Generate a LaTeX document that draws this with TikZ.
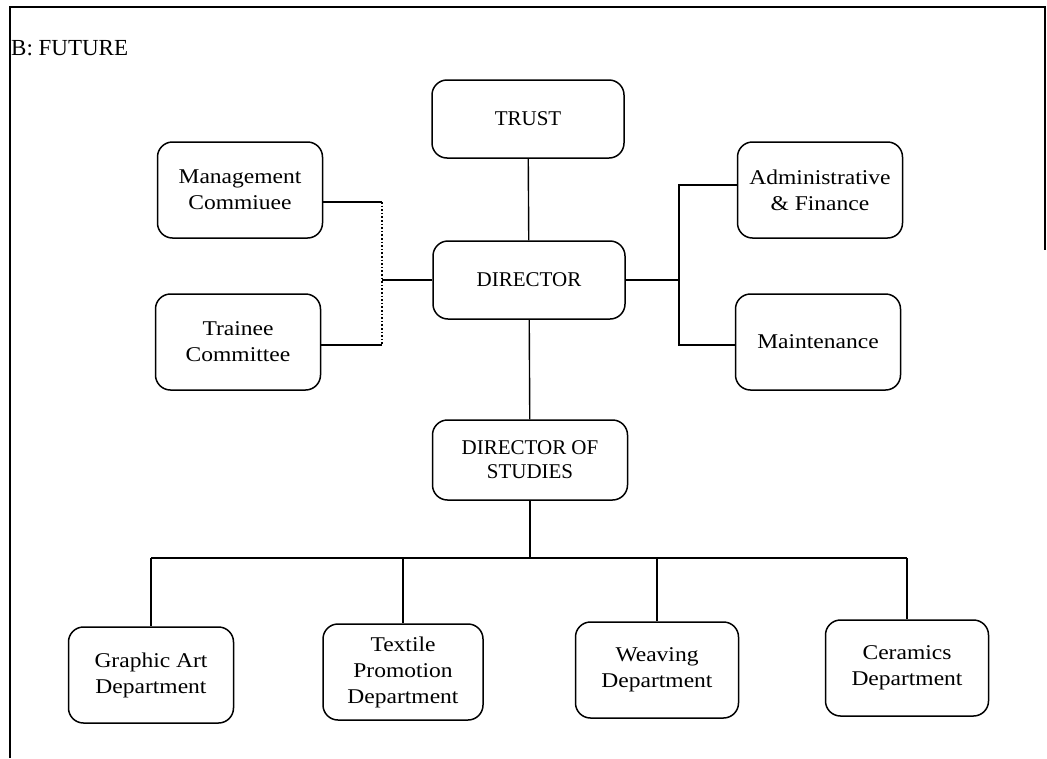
\documentclass[tikz,border=0pt]{standalone}
\usepackage{fontspec}
\setmainfont{Liberation Serif}
\newfontfamily\widefont[FakeStretch=1.12]{Liberation Serif}

\begin{document}
\begin{tikzpicture}[
        x=1pt, y=-1pt,
        font=\fontsize{21}{25}\selectfont,
        unit/.style={
            rectangle,
            rounded corners=15pt,
            draw,
            line width=1.5pt,
            align=center,
            inner sep=2pt,
            minimum width=165pt,
            minimum height=96pt,
            font=\widefont\fontsize{21}{26}\selectfont,
        },
        head/.style={
            unit,
            minimum width=192pt,
            minimum height=78pt,
            font=\fontsize{21}{24}\selectfont,
        },
        link/.style={
            line width=1.4pt,
        },
        weak/.style={
            line width=1.6pt,
            dotted,
        },
        frame/.style={
            line width=1.2pt,
        },
    ]
    \useasboundingbox (0,0) rectangle (1047,758);

    % Frame and title
    \draw [frame] (10,758) -- (10,7) -- (1045,7) -- (1045,250);
    \node [anchor=west, inner sep=0pt, font=\fontsize{23}{27}\selectfont] (title) at (11,48) {B: FUTURE};

    % Draw the top chain named trust, director, studies
    \node [head] (trust) at (528,119) {TRUST};
    \node [head] (director) at (529,280) {DIRECTOR};
    \node [head, minimum width=195pt, minimum height=80pt] (studies) at (530,460) {DIRECTOR OF\\STUDIES};

    % Draw committees and services
    \node [unit] (mgmt) at (240,190) {Management\\Commiuee};
    \node [unit] (trainee) at (238,342) {Trainee\\Committee};
    \node [unit] (admin) at (820,190) {Administrative\\\& Finance};
    \node [unit] (maint) at (818,342) {Maintenance};

    % Draw departments
    \node [unit] (graphic) at (151,675) {Graphic Art\\Department};
    \node [unit, minimum width=160pt] (textile) at (403,672) {Textile\\Promotion\\Department};
    \node [unit, minimum width=163pt] (weaving) at (657,670) {Weaving\\Department};
    \node [unit, minimum width=163pt] (ceramics) at (907,668) {Ceramics\\Department};

    % Junction points
    \coordinate (mj) at (382,202);
    \coordinate (tj) at (382,345);
    \coordinate (aj) at (679,185);
    \coordinate (nj) at (679,345);
    \coordinate (bus) at (529,558);

    % Main line
    \draw [link] (trust) -- (director);
    \draw [link] (director) -- (studies);

    % Committees
    \draw [link] (mgmt.east |- mj) -- (mj);
    \draw [weak] (mj) -- (tj);
    \draw [link] (tj) -- (trainee.east |- tj);
    \draw [link] (director.west) -- (director.west -| mj);

    % Services
    \draw [link] (director.east) -- (director.east -| aj);
    \draw [link] (admin.west |- aj) -- (aj) -- (nj) -- (maint.west |- nj);

    % Departments
    \draw [link] (studies) -- (studies |- bus);
    \draw [link] (graphic.north |- bus) -- (ceramics.north |- bus);
    \foreach \dept in {graphic,textile,weaving,ceramics}
        \draw [link] (\dept.north |- bus) -- (\dept.north);

\end{tikzpicture}
\end{document}
